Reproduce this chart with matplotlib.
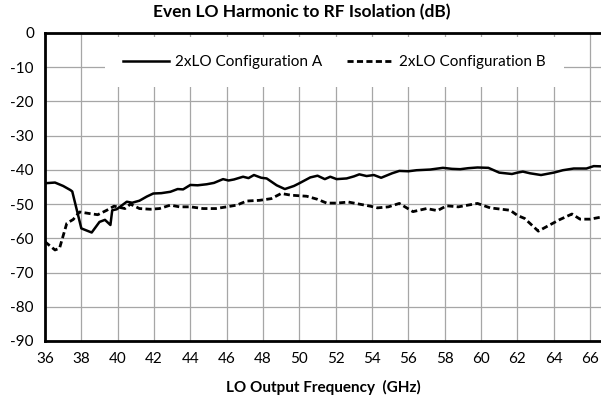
import matplotlib
matplotlib.use('Agg')
import matplotlib.pyplot as plt

plt.rcParams['font.family'] = ['Lato', 'DejaVu Sans']
plt.rcParams['axes.unicode_minus'] = False

# 2xLO configuration A (solid)
freq_a = [36.0, 36.55, 37.0, 37.4, 37.5, 38.0, 38.57, 39.0, 39.3, 39.6, 39.7, 39.95,
          40.5, 40.8, 41.2, 41.6, 41.96, 42.4, 42.9, 43.3, 43.6, 44.0, 44.4, 44.9,
          45.3, 45.8, 46.1, 46.4, 46.9, 47.2, 47.5, 47.9, 48.2, 48.75, 49.2, 49.7,
          50.0, 50.6, 51.0, 51.4, 51.7, 52.05, 52.6, 53.0, 53.3, 53.7, 54.1, 54.5,
          55.1, 55.5, 56.0, 56.45, 57.2, 57.9, 58.4, 58.85, 59.3, 59.8, 60.4, 61.0,
          61.7, 62.0, 62.3, 62.7, 63.3, 64.0, 64.5, 65.1, 65.8, 66.2, 66.8]
iso_a = [-43.9, -43.7, -44.7, -45.9, -46.3, -57.1, -58.3, -55.2, -54.6, -56.1, -51.8, -51.5,
         -49.3, -49.6, -49.0, -47.8, -46.9, -46.8, -46.4, -45.6, -45.7, -44.4, -44.5, -44.2,
         -43.8, -42.7, -43.1, -42.8, -42.0, -42.4, -41.5, -42.3, -42.5, -44.5, -45.6, -44.7,
         -43.9, -42.2, -41.7, -42.7, -42.0, -42.7, -42.5, -41.9, -41.3, -41.8, -41.5, -42.3,
         -41.0, -40.3, -40.4, -40.1, -39.9, -39.4, -39.7, -39.8, -39.5, -39.3, -39.4, -40.8,
         -41.2, -40.8, -40.5, -41.0, -41.5, -40.8, -40.1, -39.6, -39.6, -38.9, -39.0]

# 2xLO configuration B (dashed)
freq_b = [36.0, 36.55, 36.8, 37.2, 37.55, 37.9, 38.5, 38.9, 39.4, 39.8, 40.4,
          40.7, 41.2, 41.8, 42.3, 42.9, 43.4, 44.0, 44.7, 45.4, 46.0, 46.55,
          47.1, 47.8, 48.45, 49.0, 49.55, 50.4, 51.0, 51.5, 52.05, 52.7, 53.3,
          53.9, 54.3, 54.9, 55.5, 56.25, 57.0, 57.6, 58.1, 58.75, 59.8, 60.5,
          61.6, 62.0, 62.4, 63.15, 63.6, 64.3, 65.0, 65.45, 66.0, 66.8]
iso_b = [-61.0, -63.4, -62.9, -55.6, -54.5, -52.3, -52.8, -53.1, -51.8, -50.6, -51.3,
         -50.0, -51.3, -51.5, -51.3, -50.3, -50.8, -50.8, -51.3, -51.3, -50.8, -50.3,
         -49.1, -48.9, -48.4, -46.9, -47.4, -47.7, -48.6, -49.7, -49.7, -49.4, -50.0,
         -50.6, -51.1, -50.8, -49.8, -52.2, -51.3, -51.9, -50.5, -50.8, -49.8, -51.1,
         -51.8, -53.3, -54.2, -57.9, -56.6, -54.6, -52.9, -54.4, -54.4, -53.6]

x_ticks = list(range(36, 67, 2))
y_ticks = list(range(-90, 1, 10))

fig = plt.figure(figsize=(6.01, 4.01), dpi=100)
ax = fig.add_axes([45 / 601, 60 / 401, 556 / 601, 308 / 401])

ax.plot(freq_a, iso_a, color='black', lw=1.8, label='2xLO Configuration A')
ax.plot(freq_b, iso_b, color='black', lw=2.0, ls=(0, (2.2, 1.2)),
        label='2xLO Configuration B')

ax.set_xlim(36, 66.6)
ax.set_ylim(-90, 0)
ax.set_xticks(x_ticks)
ax.set_yticks(y_ticks)
ax.set_xticklabels([str(t) for t in x_ticks])
ax.set_yticklabels([str(t) for t in y_ticks])
ax.tick_params(length=0, labelsize=11, pad=8)
ax.grid(True, color='#a6a6a6', lw=0.9)
ax.set_axisbelow(True)

for side in ['left', 'top', 'bottom']:
    ax.spines[side].set_linewidth(2)
ax.spines['right'].set_visible(False)

fig.text(0.502, 0.97, 'Even LO Harmonic to RF Isolation (dB)', fontsize=12.5,
         fontweight='bold', ha='center', va='center')
ax.set_xlabel('LO Output Frequency  (GHz)', fontsize=11, fontweight='bold', labelpad=10)

leg = ax.legend(loc='center', bbox_to_anchor=(0.52, 0.906), ncol=2, fontsize=11,
                handlelength=3.0, handletextpad=0.4, columnspacing=1.6,
                frameon=True, fancybox=False, borderpad=1.2)
leg.get_frame().set_edgecolor('none')
leg.get_frame().set_facecolor('white')
leg.get_frame().set_alpha(1)

fig.savefig('out.png', dpi=100)
